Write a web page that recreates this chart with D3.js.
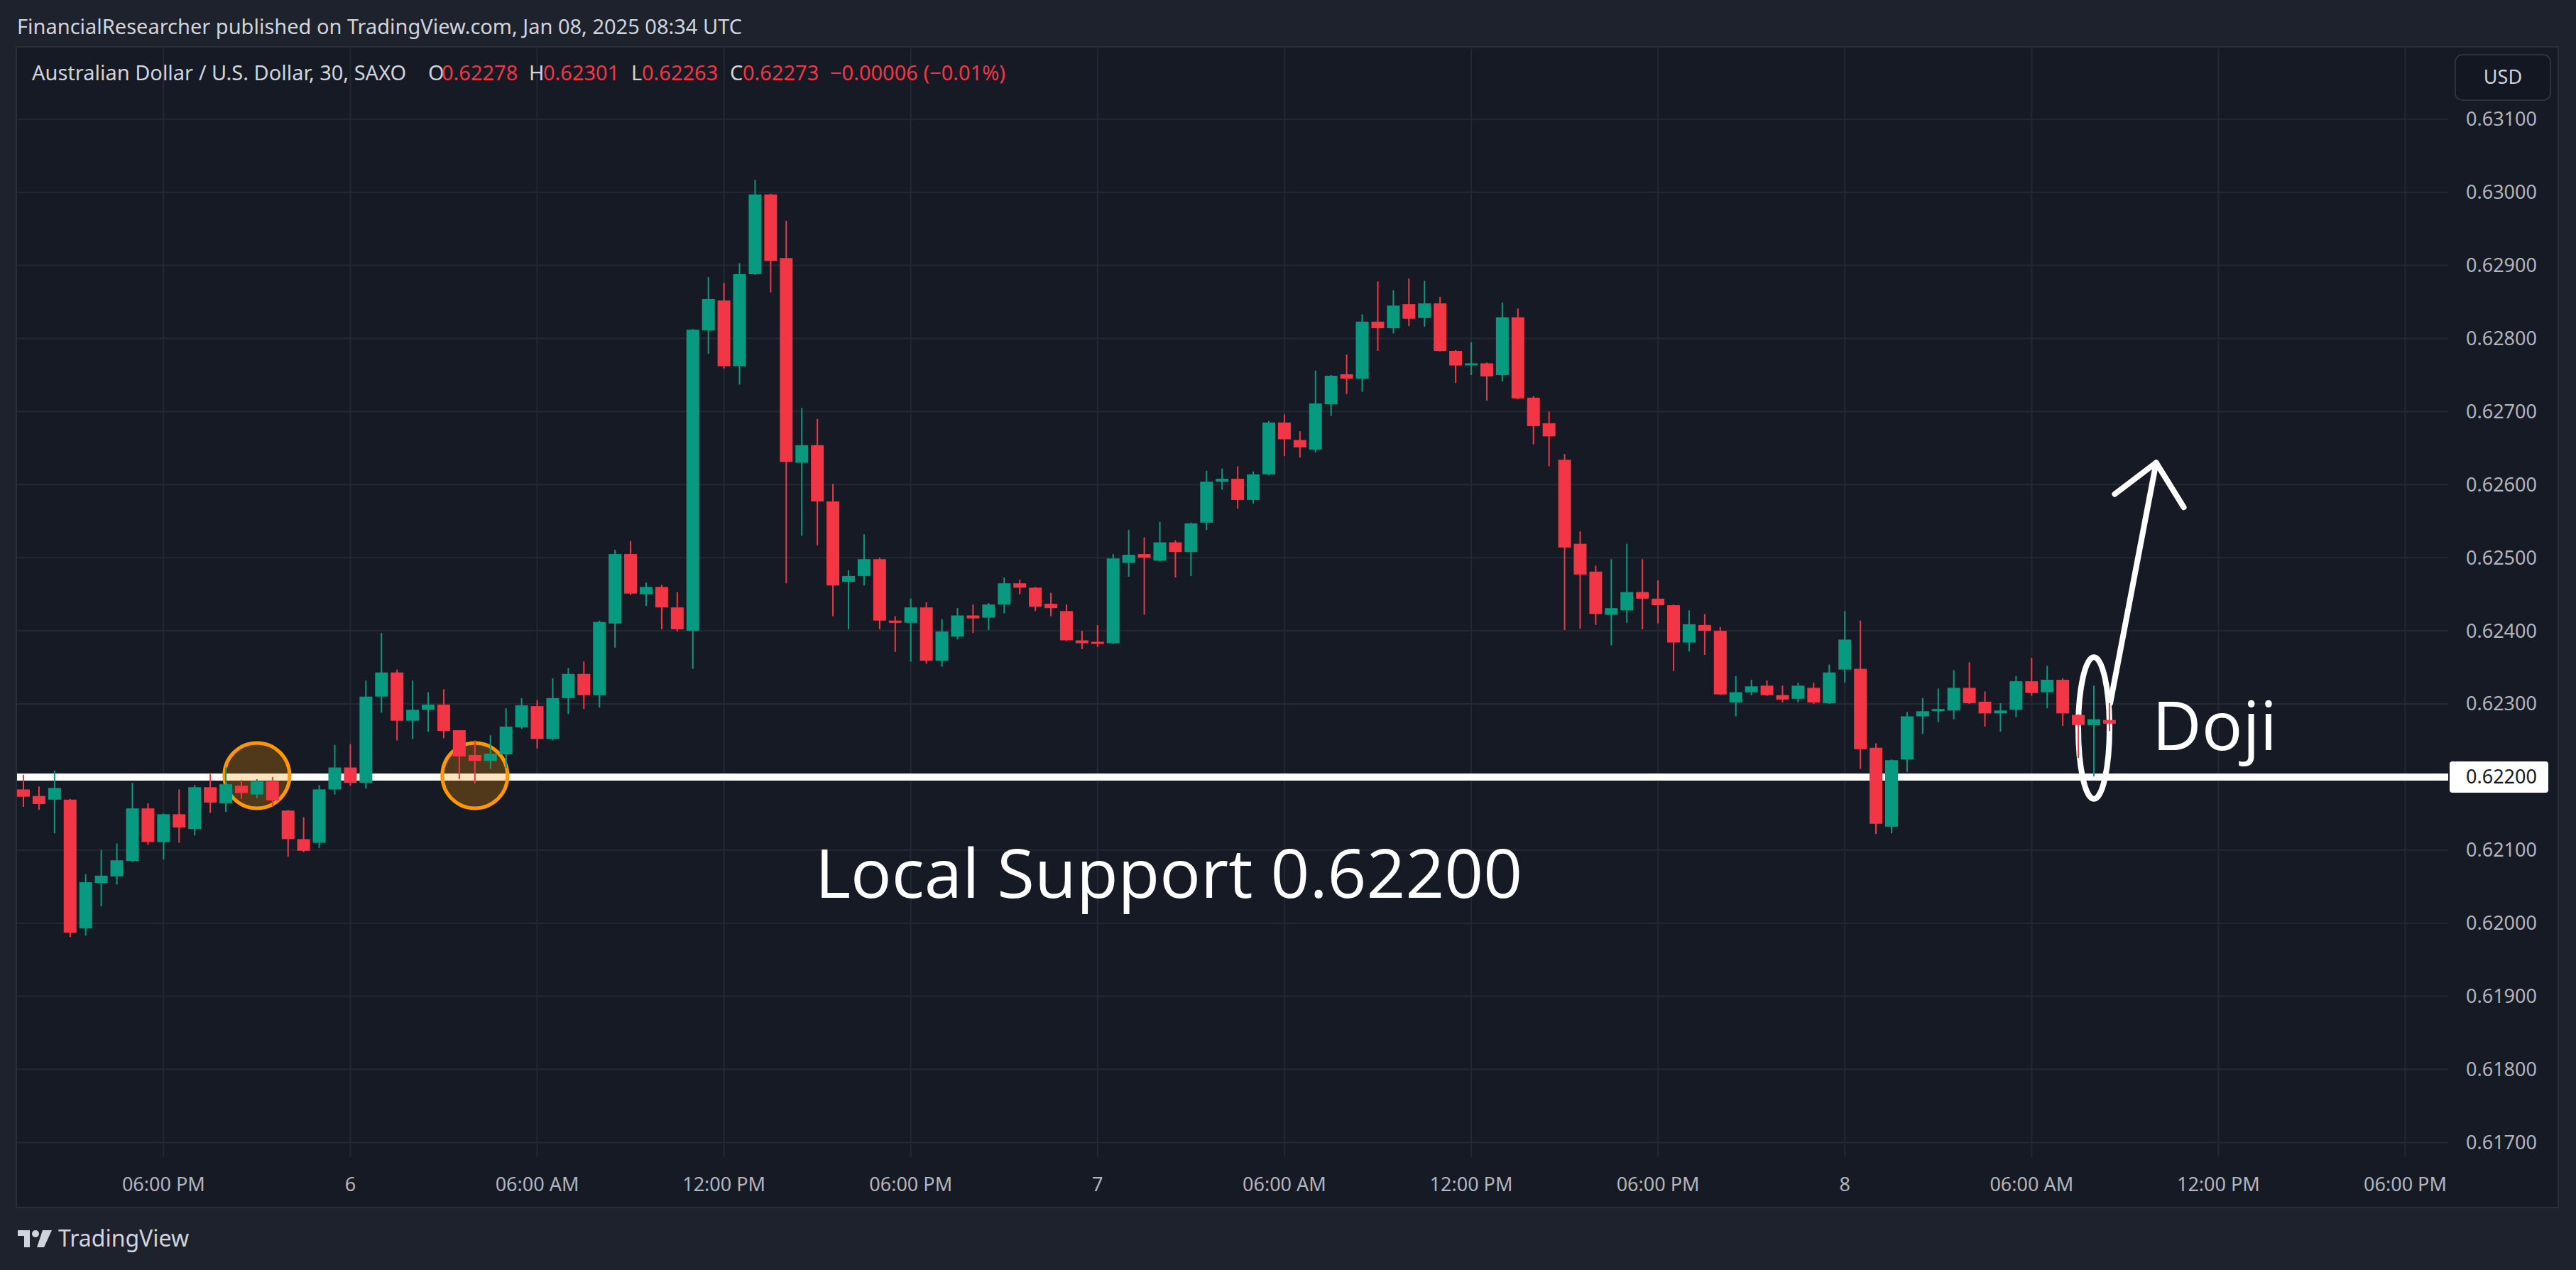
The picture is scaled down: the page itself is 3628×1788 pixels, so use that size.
<!DOCTYPE html>
<html>
<meta charset="utf-8">
<style>
    body {
        margin: 0;
        background: #1e222d;
        overflow: hidden;
    }

    text {
        font-family: "Noto Sans", sans-serif;
    }

    .grid line {
        stroke: #242835;
        stroke-width: 2px;
    }

    .axis-label {
        fill: #b2b5be;
        font-size: 27px;
    }

    .support {
        stroke: #ffffff;
        stroke-width: 10px;
    }

    .mark {
        fill: rgba(255, 152, 0, 0.25);
        stroke: #ff9800;
        stroke-width: 5px;
    }

    .note {
        fill: none;
        stroke: #ffffff;
        stroke-width: 8px;
        stroke-linecap: round;
        stroke-linejoin: round;
    }

    .big-text {
        font-family: "Open Sans", sans-serif;
        font-size: 96px;
        fill: #ffffff;
    }
</style>

<body>
    <script src="https://d3js.org/d3.v7.min.js"></script>
    <script>

        var width = 3628,
            height = 1788;

        // AUD/USD 30 min bars
        var open = [0.62183, 0.62174, 0.62169, 0.62169, 0.61993, 0.62055, 0.62064, 0.62085, 0.62157, 0.62111,
            0.62149, 0.62129, 0.62186, 0.62164, 0.62188, 0.62176, 0.62194, 0.62154, 0.62115, 0.62110,
            0.62183, 0.62213, 0.62192, 0.62310, 0.62343, 0.62277, 0.62292, 0.62299, 0.62264, 0.62230,
            0.62222, 0.62231, 0.62268, 0.62297, 0.62252, 0.62308, 0.62341, 0.62312, 0.62410, 0.62505,
            0.62450, 0.62460, 0.62432, 0.62400, 0.62811, 0.62852, 0.62762, 0.62888, 0.62997, 0.62910,
            0.62630, 0.62654, 0.62577, 0.62467, 0.62475, 0.62498, 0.62414, 0.62411, 0.62432, 0.62359,
            0.62392, 0.62421, 0.62418, 0.62436, 0.62465, 0.62459, 0.62437, 0.62427, 0.62387, 0.62385,
            0.62383, 0.62493, 0.62505, 0.62496, 0.62521, 0.62508, 0.62548, 0.62604, 0.62608, 0.62579,
            0.62614, 0.62685, 0.62661, 0.62648, 0.62710, 0.62751, 0.62745, 0.62823, 0.62814, 0.62847,
            0.62828, 0.62848, 0.62783, 0.62764, 0.62766, 0.62750, 0.62829, 0.62719, 0.62684, 0.62634,
            0.62519, 0.62481, 0.62422, 0.62428, 0.62453, 0.62444, 0.62435, 0.62384, 0.62408, 0.62400,
            0.62302, 0.62316, 0.62325, 0.62312, 0.62307, 0.62322, 0.62301, 0.62347, 0.62348, 0.62240,
            0.62132, 0.62224, 0.62283, 0.62291, 0.62291, 0.62322, 0.62303, 0.62287, 0.62292, 0.62331,
            0.62316, 0.62333, 0.62285, 0.62271, 0.62278];
        var high = [0.62203, 0.62187, 0.62209, 0.62170, 0.62067, 0.62100, 0.62109, 0.62192, 0.62164, 0.62150,
            0.62183, 0.62189, 0.62204, 0.62213, 0.62196, 0.62197, 0.62200, 0.62155, 0.62145, 0.62189,
            0.62244, 0.62245, 0.62332, 0.62397, 0.62347, 0.62332, 0.62316, 0.62320, 0.62264, 0.62250,
            0.62257, 0.62294, 0.62308, 0.62305, 0.62335, 0.62349, 0.62358, 0.62414, 0.62511, 0.62523,
            0.62466, 0.62463, 0.62453, 0.62813, 0.62884, 0.62876, 0.62903, 0.63017, 0.62998, 0.62961,
            0.62705, 0.62690, 0.62601, 0.62483, 0.62532, 0.62500, 0.62420, 0.62444, 0.62439, 0.62416,
            0.62431, 0.62436, 0.62438, 0.62473, 0.62470, 0.62460, 0.62452, 0.62436, 0.62400, 0.62408,
            0.62505, 0.62538, 0.62528, 0.62549, 0.62524, 0.62548, 0.62619, 0.62622, 0.62625, 0.62618,
            0.62687, 0.62696, 0.62673, 0.62756, 0.62750, 0.62778, 0.62833, 0.62878, 0.62866, 0.62882,
            0.62879, 0.62857, 0.62784, 0.62795, 0.62767, 0.62849, 0.62841, 0.62721, 0.62700, 0.62642,
            0.62536, 0.62489, 0.62498, 0.62519, 0.62498, 0.62469, 0.62436, 0.62428, 0.62423, 0.62405,
            0.62338, 0.62333, 0.62332, 0.62325, 0.62329, 0.62329, 0.62354, 0.62427, 0.62414, 0.62246,
            0.62224, 0.62289, 0.62308, 0.62321, 0.62346, 0.62357, 0.62317, 0.62301, 0.62338, 0.62363,
            0.62352, 0.62335, 0.62286, 0.62325, 0.62301];
        var low = [0.62159, 0.62155, 0.62123, 0.61981, 0.61983, 0.62023, 0.62053, 0.62084, 0.62107, 0.62087,
            0.62110, 0.62120, 0.62151, 0.62152, 0.62170, 0.62171, 0.62159, 0.62091, 0.62097, 0.62103,
            0.62176, 0.62188, 0.62184, 0.62288, 0.62250, 0.62252, 0.62262, 0.62253, 0.62197, 0.62191,
            0.62211, 0.62212, 0.62266, 0.62239, 0.62250, 0.62286, 0.62293, 0.62295, 0.62377, 0.62449,
            0.62434, 0.62402, 0.62399, 0.62348, 0.62779, 0.62759, 0.62737, 0.62887, 0.62863, 0.62465,
            0.62530, 0.62517, 0.62420, 0.62402, 0.62462, 0.62402, 0.62371, 0.62358, 0.62355, 0.62351,
            0.62388, 0.62397, 0.62401, 0.62424, 0.62450, 0.62427, 0.62420, 0.62386, 0.62375, 0.62378,
            0.62382, 0.62474, 0.62422, 0.62495, 0.62473, 0.62475, 0.62538, 0.62593, 0.62567, 0.62574,
            0.62613, 0.62639, 0.62637, 0.62644, 0.62694, 0.62724, 0.62727, 0.62783, 0.62807, 0.62817,
            0.62816, 0.62782, 0.62739, 0.62750, 0.62715, 0.62741, 0.62717, 0.62655, 0.62625, 0.62401,
            0.62403, 0.62408, 0.62380, 0.62411, 0.62402, 0.62410, 0.62345, 0.62372, 0.62367, 0.62312,
            0.62283, 0.62312, 0.62311, 0.62302, 0.62302, 0.62300, 0.62300, 0.62329, 0.62211, 0.62122,
            0.62123, 0.62207, 0.62259, 0.62275, 0.62279, 0.62300, 0.62269, 0.62262, 0.62282, 0.62311,
            0.62294, 0.62270, 0.62226, 0.62201, 0.62263];
        var close = [0.62173, 0.62163, 0.62185, 0.61987, 0.62056, 0.62065, 0.62086, 0.62157, 0.62111, 0.62149,
            0.62131, 0.62186, 0.62165, 0.62190, 0.62178, 0.62194, 0.62168, 0.62115, 0.62099, 0.62183,
            0.62213, 0.62192, 0.62310, 0.62343, 0.62277, 0.62292, 0.62299, 0.62263, 0.62228, 0.62222,
            0.62232, 0.62269, 0.62298, 0.62252, 0.62308, 0.62341, 0.62312, 0.62412, 0.62505, 0.62451,
            0.62460, 0.62432, 0.62402, 0.62812, 0.62854, 0.62762, 0.62888, 0.62997, 0.62906, 0.62631,
            0.62654, 0.62577, 0.62462, 0.62475, 0.62498, 0.62414, 0.62411, 0.62432, 0.62359, 0.62399,
            0.62421, 0.62417, 0.62436, 0.62465, 0.62459, 0.62433, 0.62431, 0.62387, 0.62383, 0.62383,
            0.62499, 0.62504, 0.62500, 0.62521, 0.62508, 0.62547, 0.62604, 0.62608, 0.62579, 0.62614,
            0.62685, 0.62662, 0.62651, 0.62711, 0.62749, 0.62745, 0.62823, 0.62814, 0.62845, 0.62827,
            0.62848, 0.62783, 0.62763, 0.62766, 0.62748, 0.62829, 0.62718, 0.62680, 0.62666, 0.62514,
            0.62477, 0.62423, 0.62431, 0.62453, 0.62444, 0.62435, 0.62384, 0.62409, 0.62400, 0.62313,
            0.62316, 0.62324, 0.62312, 0.62306, 0.62325, 0.62302, 0.62343, 0.62388, 0.62238, 0.62136,
            0.62223, 0.62283, 0.62290, 0.62293, 0.62322, 0.62301, 0.62287, 0.62291, 0.62331, 0.62315,
            0.62333, 0.62287, 0.62271, 0.62279, 0.62273];

        // time axis: bar index of each label
        var timeTickBars = [9, 21, 33, 45, 57, 69, 81, 93, 105, 117, 129, 141, 153];
        var timeTickLabels = ["06:00 PM", "6", "06:00 AM", "12:00 PM", "06:00 PM", "7", "06:00 AM",
            "12:00 PM", "06:00 PM", "8", "06:00 AM", "12:00 PM", "06:00 PM"];
        var priceTicks = [0.617, 0.618, 0.619, 0.620, 0.621, 0.622, 0.623, 0.624, 0.625, 0.626,
            0.627, 0.628, 0.629, 0.630, 0.631];

        var supportLevel = 0.622;
        var circledBars = [15, 29];
        var dojiBar = 133;

        var legendParts = [
            { t: "Australian Dollar / U.S. Dollar, 30, SAXO", c: "#d1d4dc", x: 45 },
            { t: "O", c: "#d1d4dc", x: 603 }, { t: "0.62278", c: "#f23645", x: 622 },
            { t: "H", c: "#d1d4dc", x: 745 }, { t: "0.62301", c: "#f23645", x: 765 },
            { t: "L", c: "#d1d4dc", x: 889 }, { t: "0.62263", c: "#f23645", x: 904 },
            { t: "C", c: "#d1d4dc", x: 1028 }, { t: "0.62273", c: "#f23645", x: 1046 },
            { t: "\u22120.00006 (\u22120.01%)", c: "#f23645", x: 1169 }
        ];

        var plot = { left: 24, right: 3448, top: 68, bottom: 1629 },
            frameRight = 3602,
            frameBottom = 1699;

        var x = d3.scaleLinear()
            .domain([0, 153])
            .range([33, 3387.5]);

        var y = d3.scaleLinear()
            .domain([0.617, 0.631])
            .range([1608.4, 167.8]);

        var fmt = d3.format(".5f");
        var bodyW = 18;

        var svg = d3.select("body").append("svg")
            .attr("width", width)
            .attr("height", height);

        svg.append("rect")
            .attr("width", width).attr("height", height)
            .attr("fill", "#1e222d");

        svg.append("text")
            .attr("x", 24).attr("y", 48)
            .attr("fill", "#d1d4dc")
            .style("font-size", "29px")
            .text("FinancialResearcher published on TradingView.com, Jan 08, 2025 08:34 UTC");

        // chart frame
        svg.append("rect")
            .attr("x", plot.left - 1).attr("y", plot.top - 2)
            .attr("width", frameRight - plot.left + 2).attr("height", frameBottom - plot.top + 3)
            .attr("fill", "#161a25")
            .attr("stroke", "#2a2e39")
            .attr("stroke-width", 2);

        var grid = svg.append("g").attr("class", "grid");

        grid.selectAll(".h")
            .data(priceTicks)
            .enter().append("line")
            .attr("x1", plot.left).attr("x2", plot.right)
            .attr("y1", function (d) { return y(d); })
            .attr("y2", function (d) { return y(d); });

        grid.selectAll(".v")
            .data(timeTickBars)
            .enter().append("line")
            .attr("x1", function (d) { return x(d); })
            .attr("x2", function (d) { return x(d); })
            .attr("y1", plot.top).attr("y2", plot.bottom);

        // legend
        var legend = svg.append("text")
            .attr("y", 113)
            .style("font-size", "29px");
        legend.selectAll("tspan")
            .data(legendParts)
            .enter().append("tspan")
            .attr("x", function (d) { return d.x; })
            .attr("fill", function (d) { return d.c; })
            .text(function (d) { return d.t; });

        // support line and marks under the bars
        svg.append("line")
            .attr("class", "support")
            .attr("x1", plot.left).attr("x2", plot.right)
            .attr("y1", y(supportLevel)).attr("y2", y(supportLevel));

        svg.selectAll(".mark")
            .data(circledBars)
            .enter().append("circle")
            .attr("class", "mark")
            .attr("cx", function (d) { return x(d); })
            .attr("cy", y(supportLevel) - 2)
            .attr("r", 46);

        svg.append("ellipse")
            .attr("class", "note")
            .attr("cx", x(dojiBar))
            .attr("cy", y(0.62267))
            .attr("rx", 22)
            .attr("ry", (y(0.62170) - y(0.62364)) / 2);

        var arrow = [[134.05, 0.62301], [137.0, 0.62630]];
        var head = [[134.34, 0.62587], [137.0, 0.62630], [138.77, 0.62569]];
        var line = d3.line()
            .x(function (d) { return x(d[0]); })
            .y(function (d) { return y(d[1]); });
        svg.append("path").attr("class", "note").attr("d", line(arrow));
        svg.append("path").attr("class", "note").attr("d", line(head));

        // candles
        var bars = d3.range(open.length);
        var candle = svg.append("g").selectAll("g")
            .data(bars)
            .enter().append("g")
            .attr("fill", function (i) { return close[i] >= open[i] ? "#089981" : "#f23645"; });

        candle.append("rect")
            .attr("x", function (i) { return x(i) - 1; })
            .attr("width", 2)
            .attr("y", function (i) { return y(high[i]); })
            .attr("height", function (i) { return y(low[i]) - y(high[i]); });

        candle.append("rect")
            .attr("x", function (i) { return x(i) - bodyW / 2; })
            .attr("width", bodyW)
            .attr("y", function (i) { return y(Math.max(open[i], close[i])); })
            .attr("height", function (i) { return Math.max(3, Math.abs(y(open[i]) - y(close[i]))); });

        // annotation texts
        svg.append("text")
            .attr("class", "big-text")
            .attr("x", 1148).attr("y", y(0.62035))
            .text("Local Support 0.62200");

        svg.append("text")
            .attr("class", "big-text")
            .attr("x", 3031).attr("y", y(0.62237))
            .text("Doji");

        // price axis
        svg.selectAll(".plabel")
            .data(priceTicks.filter(function (d) { return d !== supportLevel; }))
            .enter().append("text")
            .attr("class", "axis-label")
            .attr("x", 3523).attr("y", function (d) { return y(d); })
            .attr("dy", "0.35em")
            .attr("text-anchor", "middle")
            .text(fmt);

        svg.append("rect")
            .attr("x", 3450).attr("y", y(supportLevel) - 22)
            .attr("width", 139).attr("height", 44)
            .attr("rx", 4)
            .attr("fill", "#ffffff");
        svg.append("text")
            .attr("x", 3523).attr("y", y(supportLevel))
            .attr("dy", "0.35em")
            .attr("text-anchor", "middle")
            .attr("fill", "#131722")
            .style("font-size", "27px")
            .text(fmt(supportLevel));

        svg.append("rect")
            .attr("x", 3458).attr("y", 77)
            .attr("width", 134).attr("height", 64)
            .attr("rx", 10)
            .attr("fill", "#131722")
            .attr("stroke", "#363a45")
            .attr("stroke-width", 1.5);
        svg.append("text")
            .attr("x", 3525).attr("y", 109)
            .attr("dy", "0.35em")
            .attr("text-anchor", "middle")
            .attr("fill", "#d1d4dc")
            .style("font-size", "27px")
            .text("USD");

        // time axis
        svg.selectAll(".tlabel")
            .data(timeTickBars)
            .enter().append("text")
            .attr("class", "axis-label")
            .attr("x", function (d) { return x(d); })
            .attr("y", 1677)
            .attr("text-anchor", "middle")
            .text(function (d, i) { return timeTickLabels[i]; });

        // footer logo
        var logo = svg.append("g").attr("fill", "#d1d4dc");
        logo.append("path").attr("d", "M25,1732 h17 v24 h-8 v-16 h-9 z");
        logo.append("circle").attr("cx", 50).attr("cy", 1737).attr("r", 5);
        logo.append("path").attr("d", "M60,1732 h13 l-11,24 h-10 z");
        logo.append("text")
            .attr("x", 82).attr("y", 1755)
            .style("font-size", "32px")
            .text("TradingView");

    </script>

</body>
</html>
